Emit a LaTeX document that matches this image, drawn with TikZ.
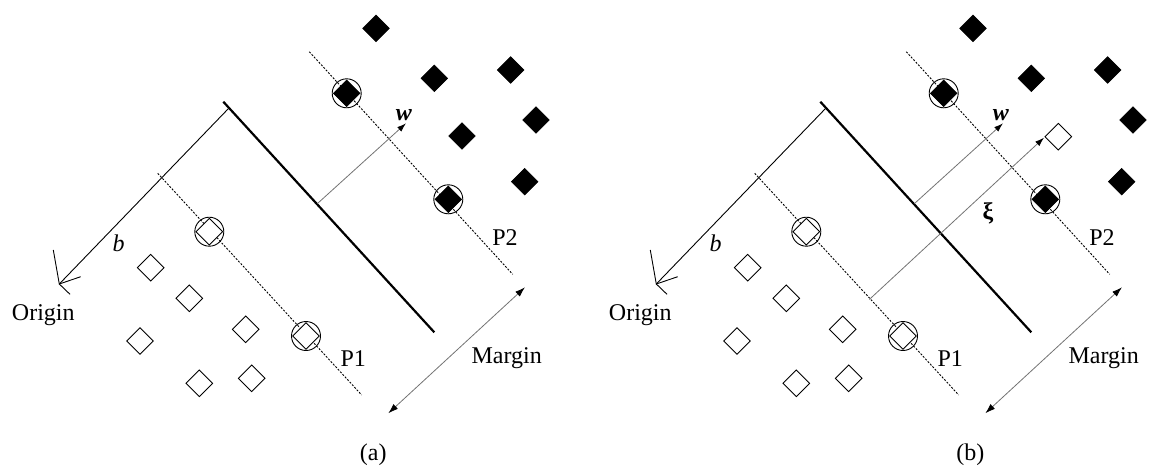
\documentclass[tikz,border=0pt]{standalone}
\usepackage{fontspec}
\setmainfont{Liberation Serif}
\usetikzlibrary{arrows.meta,shapes.geometric}
\begin{document}
\begin{tikzpicture}[x=1pt,y=-1pt,
  opendia/.style={diamond,draw=black,fill=white,line width=0.9pt,minimum size=26.6pt,inner sep=0pt,outer sep=0pt},
  filldia/.style={diamond,draw=black,fill=black,line width=0.6pt,minimum size=26.6pt,inner sep=0pt,outer sep=0pt},
  sv/.style={circle,draw=black,line width=0.9pt,minimum size=29pt,inner sep=0pt,outer sep=0pt},
  hyper/.style={line width=2.2pt},
  plane/.style={dash pattern=on 2pt off 1.5pt,line width=0.9pt},
  plain/.style={line width=0.9pt},
  vec/.style={draw=black!55,line width=0.8pt,-{Latex[length=9pt,width=6pt,color=black]}},
  twovec/.style={draw=black!55,line width=0.8pt,{Latex[length=10pt,width=6.5pt,color=black]}-{Latex[length=10pt,width=6.5pt,color=black]}},
  lbl/.style={font=\fontsize{24}{28}\selectfont,inner sep=0pt,anchor=base}
]
\useasboundingbox (0,0) rectangle (1149,474);
\foreach \dx/\pn in {0/a,597/b}{
\begin{scope}[xshift=\dx pt]
  % hyperplane
  \coordinate (\pn-h1) at (223.3,101.7);
  \coordinate (\pn-h2) at (434.3,332.3);
  \draw[hyper] (\pn-h1) -- (\pn-h2);
  % b line to origin
  \coordinate (\pn-bs) at (228.5,108.5);
  \coordinate (\pn-o) at (59.3,284);
  \coordinate (\pn-o1) at (53.3,250);
  \coordinate (\pn-o2) at (80.7,276.7);
  \coordinate (\pn-o3) at (70,294.3);
  \draw[plain] (\pn-bs) -- (\pn-o);
  \draw[plain] (\pn-o1) -- (\pn-o) -- (\pn-o2);
  \draw[plain] (\pn-o) -- (\pn-o3);
  % margin planes
  \coordinate (\pn-p1s) at (157.7,173.3);
  \coordinate (\pn-p1e) at (361.7,395);
  \coordinate (\pn-p2s) at (309.3,51.7);
  \coordinate (\pn-p2e) at (512.7,274.3);
  \draw[plane] (\pn-p1s) -- (\pn-p1e);
  \draw[plane] (\pn-p2s) -- (\pn-p2e);
  % w vector
  \coordinate (\pn-ws) at (317.5,203.5);
  \coordinate (\pn-we) at (406,123.3);
  \draw[vec] (\pn-ws) -- (\pn-we);
  % margin arrow
  \coordinate (\pn-m1) at (525,287.3);
  \coordinate (\pn-m2) at (388.3,413.3);
  \draw[twovec] (\pn-m1) -- (\pn-m2);
  % support vectors
  \node[sv] (\pn-c1) at (209.3,231.7) {};
  \node[sv] (\pn-c2) at (306,336) {};
  \node[sv] (\pn-c3) at (346.7,93.3) {};
  \node[sv] (\pn-c4) at (448.3,199.3) {};
  \node[opendia] (\pn-s1) at (209.3,231.7) {};
  \node[opendia] (\pn-s2) at (306,336) {};
  \node[filldia] (\pn-s3) at (346.7,93.3) {};
  \node[filldia] (\pn-s4) at (448.3,199.3) {};
  % negative class
  \node[opendia] (\pn-n1) at (150.7,267.7) {};
  \node[opendia] (\pn-n2) at (189.3,298.3) {};
  \node[opendia] (\pn-n3) at (245.7,329.3) {};
  \node[opendia] (\pn-n4) at (140,341) {};
  \node[opendia] (\pn-n5) at (199.3,383.3) {};
  \node[opendia] (\pn-n6) at (251.7,378.3) {};
  % positive class
  \node[filldia] (\pn-f1) at (376,28.3) {};
  \node[filldia] (\pn-f2) at (434.3,78.3) {};
  \node[filldia] (\pn-f3) at (510.7,70) {};
  \node[filldia] (\pn-f4) at (536,120) {};
  \node[filldia] (\pn-f5) at (524.7,181.7) {};
  % labels
  \node[lbl] (\pn-origin) at (43.3,320.5) {Origin};
  \node[lbl] (\pn-b) at (118.5,251.7) {\textit{b}};
  \node[lbl] (\pn-w) at (404,120) {\textbf{\textit{w}}};
  \node[lbl] (\pn-P2) at (505,245) {P2};
  \node[lbl] (\pn-P1) at (353.3,366.7) {P1};
  \node[lbl] (\pn-margin) at (506.7,363.3) {Margin};
  \node[lbl] (\pn-cap) at (373.3,460.7) {(\pn)};
\end{scope}
}
% panel (a) only
\node[filldia] (a-f6) at (462,136) {};
% panel (b) only: slack
\coordinate (b-xs) at (869.3,299.5);
\coordinate (b-xe) at (1044,137.7);
\draw[vec] (b-xs) -- (b-xe);
\node[opendia] (b-o7) at (1058.3,136.7) {};
\node[font=\fontsize{24}{28}\selectfont\bfseries,inner sep=0pt] (b-xi) at (988,213) {ξ};
\end{tikzpicture}
\end{document}
